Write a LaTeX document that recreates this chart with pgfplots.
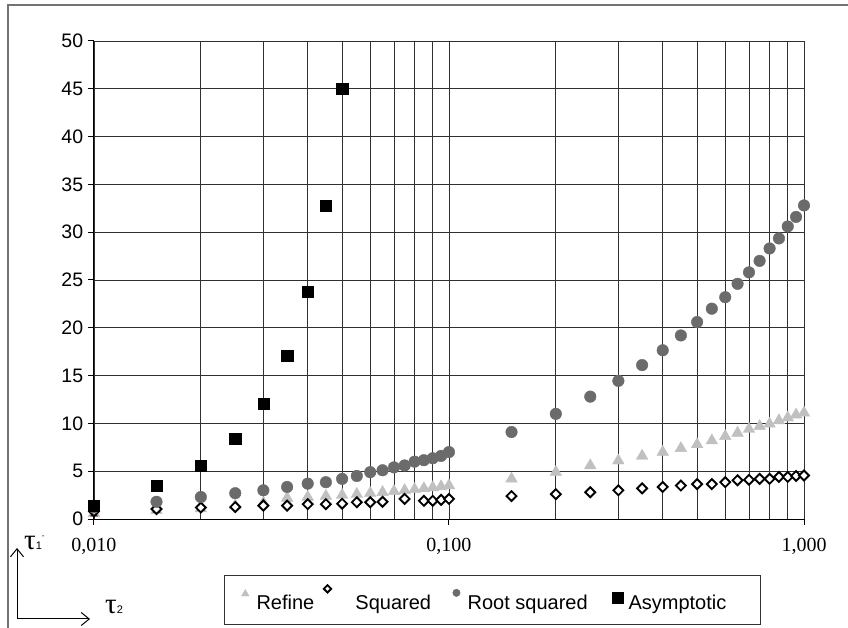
\documentclass[border=0pt]{standalone}
\usepackage{fontspec}
\setmainfont{Liberation Sans}
\newfontfamily\timesf{Liberation Serif}
\usepackage{pgfplots}
\pgfplotsset{compat=1.18}
\usetikzlibrary{arrows.meta}
\definecolor{refine}{HTML}{C0C0C0}
\definecolor{rootsq}{HTML}{6B6B6B}
\definecolor{hid}{HTML}{800080}
\definecolor{gridc}{HTML}{303030}
\pgfplotsset{mylegend/.style 2 args={legend image code/.code={\path (0bp,0bp) (16bp,0bp); \draw[##1,/tikz/every mark/.append style={scale=#2}] plot coordinates {(5bp,#1)};}}}
\begin{document}
\begin{tikzpicture}
\useasboundingbox (0,0) rectangle (848bp,628bp);
\draw[black!55, line width=1.2bp] (8bp,0) -- (8bp,623bp) -- (848bp,623bp);
\begin{axis}[
 at={(94bp,109bp)}, anchor=south west,
 scale only axis, width=710bp, height=478bp,
 xmode=log, xmin=0.01, xmax=1, ymin=0, ymax=50,
 xtick={0.01,0.1,1}, xticklabels={{0,010},{0,100},{1,000}},
 minor xtick={0.02,0.03,0.04,0.05,0.06,0.07,0.08,0.09,0.2,0.3,0.4,0.5,0.6,0.7,0.8,0.9},
 ytick={0,5,...,50},
 grid=both, major grid style={gridc, line width=0.9bp}, minor grid style={gridc, line width=0.9bp},
 axis lines=left, axis line style={-, black, line width=1bp},
 tick align=outside, major tick length=6bp, minor tick length=0pt, tick style={black, line width=1bp},
 xticklabel style={font=\timesf\fontsize{20bp}{22bp}\selectfont, inner sep=0pt, anchor=north, yshift=-13bp},
 yticklabel style={font=\fontsize{19.5bp}{22bp}\selectfont, inner sep=0pt, anchor=east, xshift=-4.7bp},
 /pgf/number format/assume math mode=true,
 clip=false,
 legend columns=4,
 legend style={at={(0.183,-0.117)}, anchor=north west, draw=black!80, inner xsep=16bp, inner ysep=10bp, font=\fontsize{20bp}{22bp}\selectfont, nodes={inner sep=0pt, text depth=4bp}, cells={anchor=base west}, /tikz/every even column/.append style={column sep=7.2bp}},
]
\addplot[only marks, mark=triangle*, mark size=6.7bp, color=refine, mylegend={16bp}{0.65}] table {
x y
0.01 0.6
0.015 0.9
0.02 1.1
0.025 1.4
0.03 1.7
0.035 2.2
0.04 2.3
0.045 2.4
0.05 2.5
0.055 2.6
0.06 2.7
0.065 2.8
0.07 2.9
0.075 3.0
0.08 3.1
0.085 3.2
0.09 3.3
0.095 3.4
0.1 3.5
0.15 4.2
0.2 4.9
0.25 5.6
0.3 6.1
0.35 6.6
0.4 7.0
0.45 7.4
0.5 7.8
0.55 8.2
0.6 8.65
0.65 9.0
0.7 9.4
0.75 9.7
0.8 9.95
0.85 10.3
0.9 10.6
0.95 10.9
1.0 11.1
};
\addlegendentry{Refine}
\addplot[only marks, mark=triangle*, mark size=4bp, color=hid, forget plot] table {
x y
0.01 0.5
0.015 0.9
0.02 1.1
0.025 1.4
0.03 1.7
};
\addplot[only marks, mark=square*, mark size=3.5bp, draw=black, fill=white, line width=1.9bp, mark options={rotate=45, fill=white, draw=black, line width=1.9bp}, mylegend={21bp}{0.75}] table {
x y
0.01 0.8
0.015 1.05
0.02 1.2
0.025 1.25
0.03 1.4
0.035 1.4
0.04 1.55
0.045 1.55
0.05 1.6
0.055 1.75
0.06 1.75
0.065 1.8
0.075 2.1
0.085 1.9
0.09 1.9
0.095 2.0
0.1 2.1
0.15 2.4
0.2 2.6
0.25 2.8
0.3 3.0
0.35 3.2
0.4 3.35
0.45 3.5
0.5 3.65
0.55 3.65
0.6 3.85
0.65 4.05
0.7 4.1
0.75 4.2
0.8 4.2
0.85 4.4
0.9 4.4
0.95 4.5
1.0 4.55
};
\addlegendentry{\hspace{16bp}Squared\rule{13bp}{0pt}}
\addplot[only marks, mark=*, mark size=5.8bp, color=rootsq, mylegend={17bp}{0.64}] table {
x y
0.01 1.2
0.015 1.8
0.02 2.3
0.025 2.7
0.03 3.0
0.035 3.35
0.04 3.7
0.045 3.85
0.05 4.2
0.055 4.5
0.06 4.9
0.065 5.1
0.07 5.4
0.075 5.6
0.08 6.0
0.085 6.15
0.09 6.35
0.095 6.6
0.1 7.0
0.15 9.1
0.2 11.0
0.25 12.8
0.3 14.45
0.35 16.1
0.4 17.65
0.45 19.2
0.5 20.6
0.55 22.0
0.6 23.2
0.65 24.6
0.7 25.8
0.75 27.0
0.8 28.3
0.85 29.35
0.9 30.6
0.95 31.6
1.0 32.8
};
\addlegendentry{Root squared\rule{16.8bp}{0pt}}
\addplot[only marks, mark=square*, mark size=5.6bp, color=black, mylegend={12bp}{1}] table {
x y
0.01 1.4
0.015 3.5
0.02 5.6
0.025 8.4
0.03 12.1
0.035 17.1
0.04 23.8
0.045 32.8
0.05 45.0
};
\addlegendentry{Asymptotic\rule{18bp}{0pt}}
\end{axis}
\draw[black, line width=1bp, -{Straight Barb[length=8bp,width=13bp]}] (17bp,9bp) -- (17bp,80bp);
\draw[black, line width=1bp, -{Straight Barb[length=8bp,width=13bp]}] (17bp,9bp) -- (90bp,9bp);
\node[anchor=base west, inner sep=0pt] at (24bp,78bp) {{\timesf\fontsize{29bp}{29bp}\selectfont τ}{\fontsize{11bp}{11bp}\selectfont 1}\raisebox{11bp}{\fontsize{8bp}{8bp}\selectfont -}};
\node[anchor=base west, inner sep=0pt] at (105bp,15bp) {{\timesf\fontsize{29bp}{29bp}\selectfont τ}{\fontsize{11bp}{11bp}\selectfont 2}};
\end{tikzpicture}
\end{document}
